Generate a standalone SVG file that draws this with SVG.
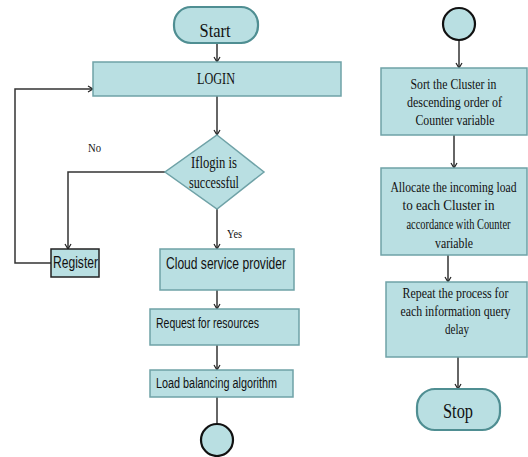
<svg xmlns="http://www.w3.org/2000/svg" width="528" height="457" viewBox="0 0 528 457">
<defs>
<marker id="ah" markerWidth="8" markerHeight="8" refX="6" refY="4" orient="auto" markerUnits="userSpaceOnUse">
<path d="M1,1 L6,4 L1,7" fill="none" stroke="#222" stroke-width="1.2"/>
</marker>
<style>
.box{fill:#b9dfe2;stroke:#6fa2a7;stroke-width:1.5}
.term{fill:#b9dfe2;stroke:#4f8e92;stroke-width:2.2}
.circ{fill:#b9dfe2;stroke:#111;stroke-width:2.2}
.reg{fill:#b9dfe2;stroke:#222;stroke-width:1.5}
.ser{font-family:"Liberation Serif","Times New Roman",serif;fill:#111}
.san{font-family:"Liberation Sans",Arial,sans-serif;fill:#111}
.ln{fill:none;stroke:#333;stroke-width:1.5}
.la{fill:none;stroke:#333;stroke-width:1.5;marker-end:url(#ah)}
</style>
</defs>
<g id="connectors">
<path class="la" d="M217,43 V62"/>
<path class="la" d="M217,96 V135"/>
<path class="la" d="M165,172 H68 V249"/>
<path class="la" d="M51,263 H15 V89 H93"/>
<path class="la" d="M217,209 V249"/>
<path class="la" d="M217,277 V309"/>
<path class="la" d="M217,345 V370"/>
<path class="ln" d="M217,397 V424"/>
<path class="la" d="M459,40 V68"/>
<path class="la" d="M454,135 V168"/>
<path class="la" d="M448,255 V282"/>
<path class="la" d="M458,357 V389"/>
</g>
<g id="start">
<rect class="term" x="174" y="7" width="84" height="36" rx="17"/>
<text class="ser" x="215" y="37" font-size="19" text-anchor="middle" textLength="31" lengthAdjust="spacingAndGlyphs">Start</text>
</g>
<g id="login">
<rect class="box" x="93" y="62" width="248" height="34"/>
<text class="ser" x="216" y="84" font-size="16" text-anchor="middle" textLength="38" lengthAdjust="spacingAndGlyphs">LOGIN</text>
</g>
<g id="decision">
<polygon class="box" points="217,135 264,172 217,209 165,172"/>
<text class="ser" x="214" y="168" font-size="16" text-anchor="middle" textLength="46" lengthAdjust="spacingAndGlyphs">Iflogin is</text>
<text class="ser" x="214" y="188" font-size="16" text-anchor="middle" textLength="50" lengthAdjust="spacingAndGlyphs">successful</text>
</g>
<g id="labels">
<text class="ser" x="88" y="152" font-size="13" textLength="13" lengthAdjust="spacingAndGlyphs">No</text>
<text class="ser" x="227" y="238" font-size="12" textLength="15" lengthAdjust="spacingAndGlyphs">Yes</text>
</g>
<g id="register">
<rect class="reg" x="51" y="249" width="48" height="28"/>
<text class="san" x="53" y="268" font-size="16" textLength="45" lengthAdjust="spacingAndGlyphs">Register</text>
</g>
<g id="cloud">
<rect class="box" x="160" y="249" width="134" height="41"/>
<text class="san" x="166" y="269" font-size="16" textLength="120" lengthAdjust="spacingAndGlyphs">Cloud service provider</text>
</g>
<g id="request">
<rect class="box" x="150" y="309" width="149" height="36"/>
<text class="san" x="156" y="328" font-size="14" textLength="103" lengthAdjust="spacingAndGlyphs">Request for resources</text>
</g>
<g id="loadbal">
<rect class="box" x="150" y="370" width="143" height="27"/>
<text class="san" x="156" y="388" font-size="14" textLength="121" lengthAdjust="spacingAndGlyphs">Load balancing algorithm</text>
</g>
<g id="connector-out">
<circle class="circ" cx="217" cy="440" r="16"/>
</g>
<g id="connector-in">
<circle class="circ" cx="459" cy="24" r="16"/>
</g>
<g id="sort">
<rect class="box" x="381" y="68" width="146" height="67"/>
<text class="ser" font-size="15" text-anchor="middle" transform="scale(0.8,1)">
<tspan x="568.75" y="89" textLength="107.5" lengthAdjust="spacingAndGlyphs">Sort the Cluster in</tspan>
<tspan x="570" y="107" textLength="118.75" lengthAdjust="spacingAndGlyphs">descending order of</tspan>
<tspan x="568.75" y="125" textLength="98.75" lengthAdjust="spacingAndGlyphs">Counter variable</tspan>
</text>
</g>
<g id="allocate">
<rect class="box" x="381" y="168" width="146" height="87"/>
<text class="ser" font-size="15" text-anchor="middle" transform="scale(0.8,1)">
<tspan x="568.75" y="192" textLength="157.5" lengthAdjust="spacingAndGlyphs">Allocate the incoming load</tspan>
<tspan x="562.5" y="210" textLength="115" lengthAdjust="spacingAndGlyphs">to each Cluster in</tspan>
<tspan x="575" y="229" textLength="130" lengthAdjust="spacingAndGlyphs">accordance with Counter</tspan>
<tspan x="567.5" y="248" textLength="47.5" lengthAdjust="spacingAndGlyphs">variable</tspan>
</text>
</g>
<g id="repeat">
<rect class="box" x="386" y="282" width="141" height="75"/>
<text class="ser" font-size="15" text-anchor="middle" transform="scale(0.8,1)">
<tspan x="571.25" y="298" textLength="132.5" lengthAdjust="spacingAndGlyphs">Repeat the process  for</tspan>
<tspan x="571.25" y="316" textLength="137.5" lengthAdjust="spacingAndGlyphs">each information  query</tspan>
<tspan x="571.25" y="334" textLength="30" lengthAdjust="spacingAndGlyphs">delay</tspan>
</text>
</g>
<g id="stop">
<rect class="term" x="417" y="389" width="83" height="41" rx="18"/>
<text class="ser" x="458" y="418" font-size="20" text-anchor="middle" textLength="30" lengthAdjust="spacingAndGlyphs">Stop</text>
</g>
</svg>
